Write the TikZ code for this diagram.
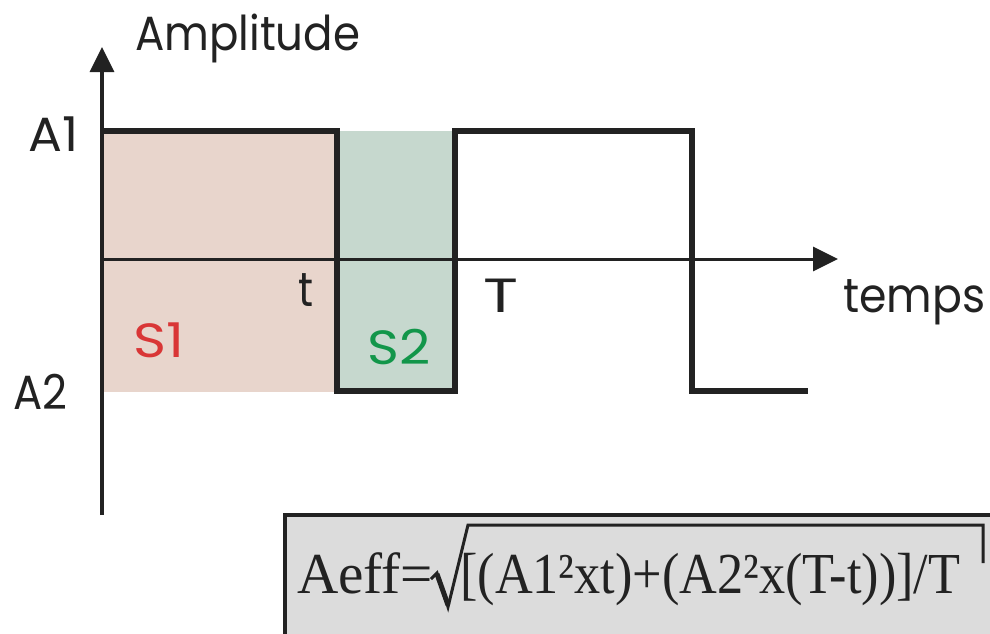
\documentclass[tikz,border=0pt]{standalone}
\usepackage{fontspec}
\usepackage{graphicx}
\setmainfont{Liberation Serif}
\newfontfamily\geofont{Poppins}
\usetikzlibrary{arrows.meta}
\definecolor{sonepink}{HTML}{E8D5CC}
\definecolor{stwogreen}{HTML}{C6D8CE}
\definecolor{sonered}{HTML}{D93636}
\definecolor{stwogreentxt}{HTML}{12964A}
\definecolor{inkdark}{HTML}{222222}
\definecolor{boxgray}{HTML}{DCDCDC}
\newcommand{\fitw}[2]{\resizebox{#1}{\height}{#2}}
\tikzset{
  lbl/.style={font=\geofont\fontsize{48}{52}\selectfont, text=inkdark, inner sep=0pt},
  axisline/.style={draw=inkdark, line width=3.5pt, -{Triangle[length=25pt,width=24pt]}},
  signal/.style={draw=inkdark, line width=6pt, line join=miter},
  formula/.style={inner sep=0pt, font=\fontsize{58}{64}\selectfont, text=inkdark},
}
\begin{document}
\begin{tikzpicture}[x=1pt,y=-1pt]
\useasboundingbox (0,0) rectangle (990,633);
\clip (0,0) rectangle (990,633);
% areas
\fill[sonepink] (104,131) rectangle (337,392);
\fill[stwogreen] (337,131) rectangle (455,391);
% axes
\coordinate (o) at (102,259);
\coordinate (ybot) at (102,515);
\coordinate (ytop) at (102,47);
\coordinate (xend) at (838,259);
\draw[axisline] (ybot) -- (ytop);
\draw[axisline, line width=3pt] (o) -- (xend);
% signal
\draw[signal] (102,131) -- (337,131) -- (337,391) -- (455,391) -- (455,131) -- (692,131) -- (692,391) -- (808,391);
% labels
\node[lbl, anchor=base west] (amp) at (135,50) {\fitw{225pt}{Amplitude}};
\node[lbl, anchor=base west] (a1) at (28,151) {\fitw{50pt}{A1}};
\node[lbl, anchor=base west] (a2) at (13,409) {\fitw{54pt}{A2}};
\node[lbl, anchor=base west] (tt) at (298,306) {\fitw{15pt}{t}};
\node[lbl, anchor=base west] (bigT) at (483,312) {\fitw{35pt}{T}};
\node[lbl, anchor=base west] (temps) at (843,312) {\fitw{142pt}{temps}};
\node[lbl, anchor=base west, text=sonered] (s1) at (133,357) {\fitw{51pt}{S1}};
\node[lbl, anchor=base west, text=stwogreentxt] (s2) at (367,364) {\fitw{63pt}{S2}};
% formula box
\draw[fill=boxgray, draw=inkdark, line width=4pt] (285,515) rectangle (1010,650);
\node[formula, anchor=base west] (lhs) at (297,593) {\fitw{136pt}{Aeff=}};
\draw[inkdark, line width=3pt, line join=miter] (431,579) -- (437,573) -- (448,607) -- (468,525) -- (983,525) -- (983,563);
\draw[inkdark, line width=5pt] (437,574) -- (448,605);
\node[formula, anchor=base west] (rhs) at (460,593) {\fitw{500pt}{[(A1²xt)+(A2²x(T-t))]/T}};
\end{tikzpicture}
\end{document}
